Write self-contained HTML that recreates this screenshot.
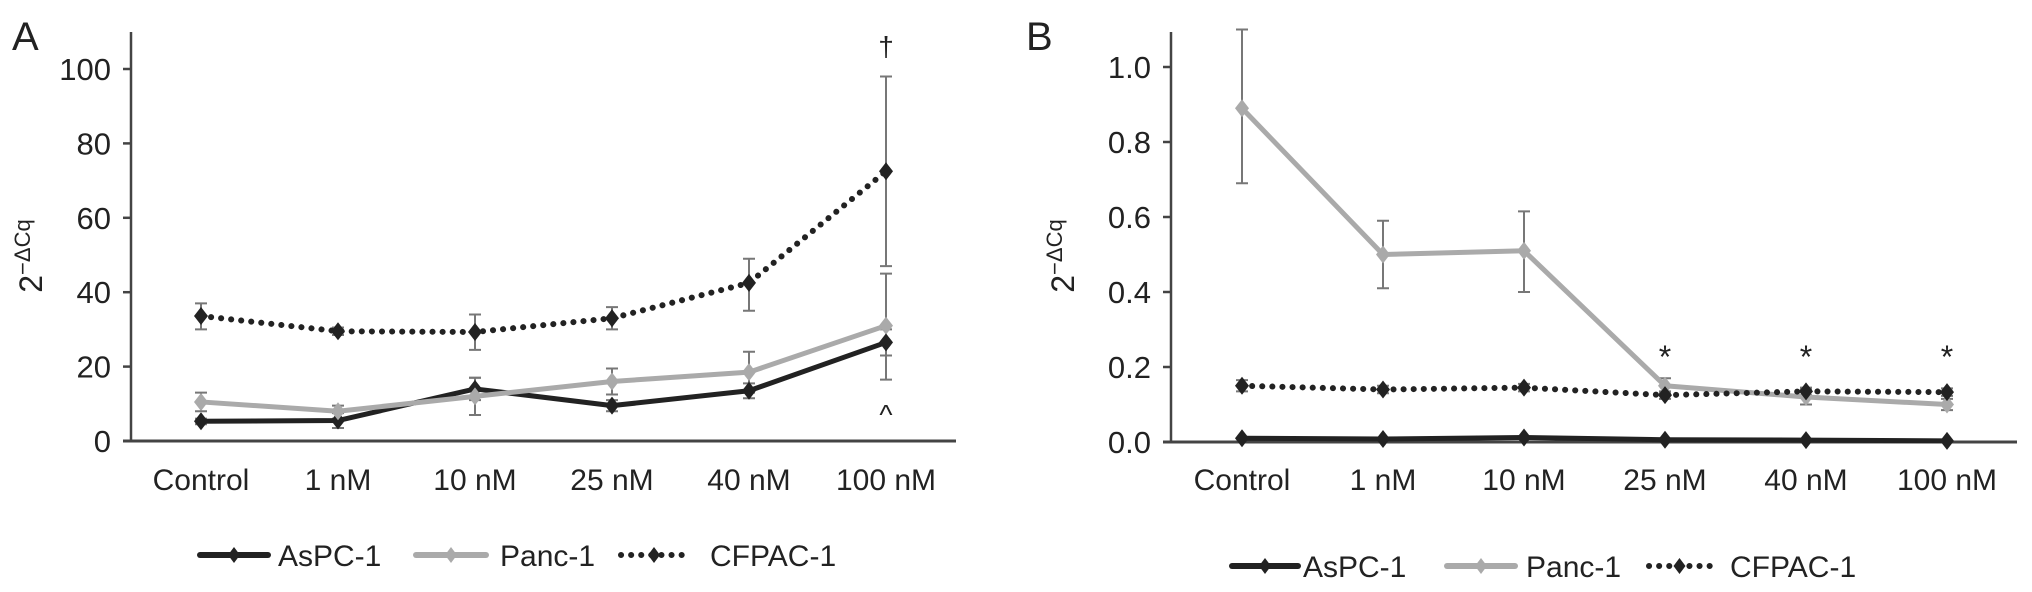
<!DOCTYPE html>
<html><head><meta charset="utf-8"><style>
body{margin:0;background:#fff;width:2032px;height:587px;overflow:hidden}
svg text{font-family:"Liberation Sans",Arial,sans-serif;fill:#222}
</style></head><body>
<svg id="c" width="2032" height="587" xmlns="http://www.w3.org/2000/svg"></svg>
<script>
const categories=["Control","1 nM","10 nM","25 nM","40 nM","100 nM"];
const seriesNames=["AsPC-1","Panc-1","CFPAC-1"];
const aAsPC=[5.3,5.5,14,9.5,13.5,26.5];
const aAsPCLo=[4.5,3.5,11,8,11.5,23];
const aAsPCHi=[6,7.5,17,11,15.5,30];
const aPanc=[10.5,8,12,16,18.5,31];
const aPancLo=[8,6,7,12.5,13,16.5];
const aPancHi=[13,9.5,17,19.5,24,45];
const aCF=[33.6,29.5,29.3,33,42.5,72.5];
const aCFLo=[30,28.5,24.5,30,35,47];
const aCFHi=[37,30.5,34,36,49,98];
const aTicks=[0,20,40,60,80,100];
const bAsPC=[0.01,0.008,0.012,0.006,0.005,0.003];
const bPanc=[0.89,0.5,0.51,0.15,0.12,0.1];
const bPancLo=[0.69,0.41,0.4,0.13,0.1,0.085];
const bPancHi=[1.1,0.59,0.615,0.17,0.14,0.115];
const bCF=[0.15,0.14,0.145,0.125,0.135,0.133];
const bCFLo=[0.135,0.13,0.135,0.115,0.125,0.123];
const bCFHi=[0.165,0.15,0.155,0.135,0.145,0.143];
const bTicks=["0.0","0.2","0.4","0.6","0.8","1.0"];

const svg=document.getElementById('c');
const NS="http://www.w3.org/2000/svg";
function el(tag,attrs,parent){const e=document.createElementNS(NS,tag);for(const k in attrs)e.setAttribute(k,attrs[k]);(parent||svg).appendChild(e);return e;}
function txt(s,attrs,parent){const e=el('text',attrs,parent);e.textContent=s;return e;}

function panel(cfg){
  const g=el('g',{});
  
  
  const X=i=>cfg.x0+i*cfg.dx;
  const Y=v=>cfg.y0-(v/cfg.max)*(cfg.y0-cfg.yTop);
  const ya=el('line',{x1:cfg.ax,y1:32,x2:cfg.ax,y2:cfg.y0+1,stroke:'#444','stroke-width':2.5},g);
  
  const xa=el('line',{x1:cfg.ax-8,y1:cfg.y0,x2:cfg.axEnd,y2:cfg.y0,stroke:'#444','stroke-width':3},g);
  
  cfg.ticks.forEach(t=>{
    const v=parseFloat(t);const y=Y(v);
    el('line',{x1:cfg.ax-8,y1:y,x2:cfg.ax,y2:y,stroke:'#444','stroke-width':2.5},g);
    const tl=txt(String(t),{x:cfg.ax-20,y:y+11,'font-size':31,'text-anchor':'end'},g);
    
  });
  categories.forEach((c,i)=>{
    const t=txt(c,{x:X(i),y:490,'font-size':30,'text-anchor':'middle'},g);
    
  });
  const yt=txt('',{transform:`translate(${cfg.ylx},256) rotate(-90)`,'font-size':32,'text-anchor':'middle'},g);
  yt.innerHTML='2<tspan dy="-12" font-size="22">−ΔCq</tspan>';
  
  const pl=txt(cfg.label,{x:cfg.lx,y:50,'font-size':40},g);
  
  function errs(lo,hi,name){
    lo.forEach((l,i)=>{
      const e=el('path',{d:`M${X(i)} ${Y(l)}V${Y(hi[i])}M${X(i)-6} ${Y(l)}h12M${X(i)-6} ${Y(hi[i])}h12`,stroke:'#777','stroke-width':2,fill:'none'},g);
      
    });
  }
  function series(vals,color,dash,name,w){
    const d=vals.map((v,i)=>(i?'L':'M')+X(i)+' '+Y(v)).join('');
    const p=el('path',{d:d,stroke:color,'stroke-width':w,fill:'none','stroke-linejoin':'round','stroke-linecap':'round'},g);
    if(dash)p.setAttribute('stroke-dasharray',dash);
    
    vals.forEach((v,i)=>{
      const m=el('path',{d:`M${X(i)} ${Y(v)-9}l7 9l-7 9l-7 -9z`,fill:color},g);
      
    });
  }
  errs(cfg.cfLo,cfg.cfHi,'cfpac');
  errs(cfg.pLo,cfg.pHi,'panc');
  if(cfg.asLo)errs(cfg.asLo,cfg.asHi,'aspc');
  series(cfg.as,'#222',null,'aspc',5);
  series(cfg.p,'#aaa',null,'panc',5);
  series(cfg.cf,'#222','0.1 10','cfpac',6);
  cfg.notes.forEach(n=>{const t=txt(n[0],{x:X(n[1]),y:n[2],'font-size':n[3],'text-anchor':'middle'},g);
    });
  const L=cfg.leg,ly=cfg.ly;
  const items=[['#222',null,seriesNames[0]],['#aaa',null,seriesNames[1]],['#222','0.1 10',seriesNames[2]]];
  items.forEach((it,k)=>{
    const lg=el('g',{},g);
    
    const x1=L[k][0],x2=L[k][1];
    const ln=el('line',{x1:x1,y1:ly,x2:x2,y2:ly,stroke:it[0],'stroke-width':6,'stroke-linecap':'round'},lg);
    if(it[1])ln.setAttribute('stroke-dasharray',it[1]);
    const mx=(x1+x2)/2;
    el('path',{d:`M${mx} ${ly-8}l6 8l-6 8l-6 -8z`,fill:it[0]},lg);
    txt(it[2],{x:L[k][2],y:ly+11,'font-size':30},lg);
  });
}
panel({name:'panel-a',label:'A',lx:12,ax:131,axEnd:956,x0:201,dx:137,y0:441,yTop:69,max:100,ylx:42,
  ticks:aTicks,as:aAsPC,asLo:aAsPCLo,asHi:aAsPCHi,p:aPanc,pLo:aPancLo,pHi:aPancHi,cf:aCF,cfLo:aCFLo,cfHi:aCFHi,
  notes:[['†',5,56,28],['^',5,424,28]],leg:[[200,268,278],[416,486,500],[621,687,710]],ly:555});
panel({name:'panel-b',label:'B',lx:1026,ax:1171,axEnd:2017,x0:1242,dx:141,y0:442,yTop:67,max:1.0,ylx:1074,
  ticks:bTicks,as:bAsPC,asLo:null,p:bPanc,pLo:bPancLo,pHi:bPancHi,cf:bCF,cfLo:bCFLo,cfHi:bCFHi,
  notes:[['*',3,368,32],['*',4,368,32],['*',5,368,32]],leg:[[1232,1298,1303],[1447,1515,1526],[1649,1710,1730]],ly:566});
</script>
</body></html>
